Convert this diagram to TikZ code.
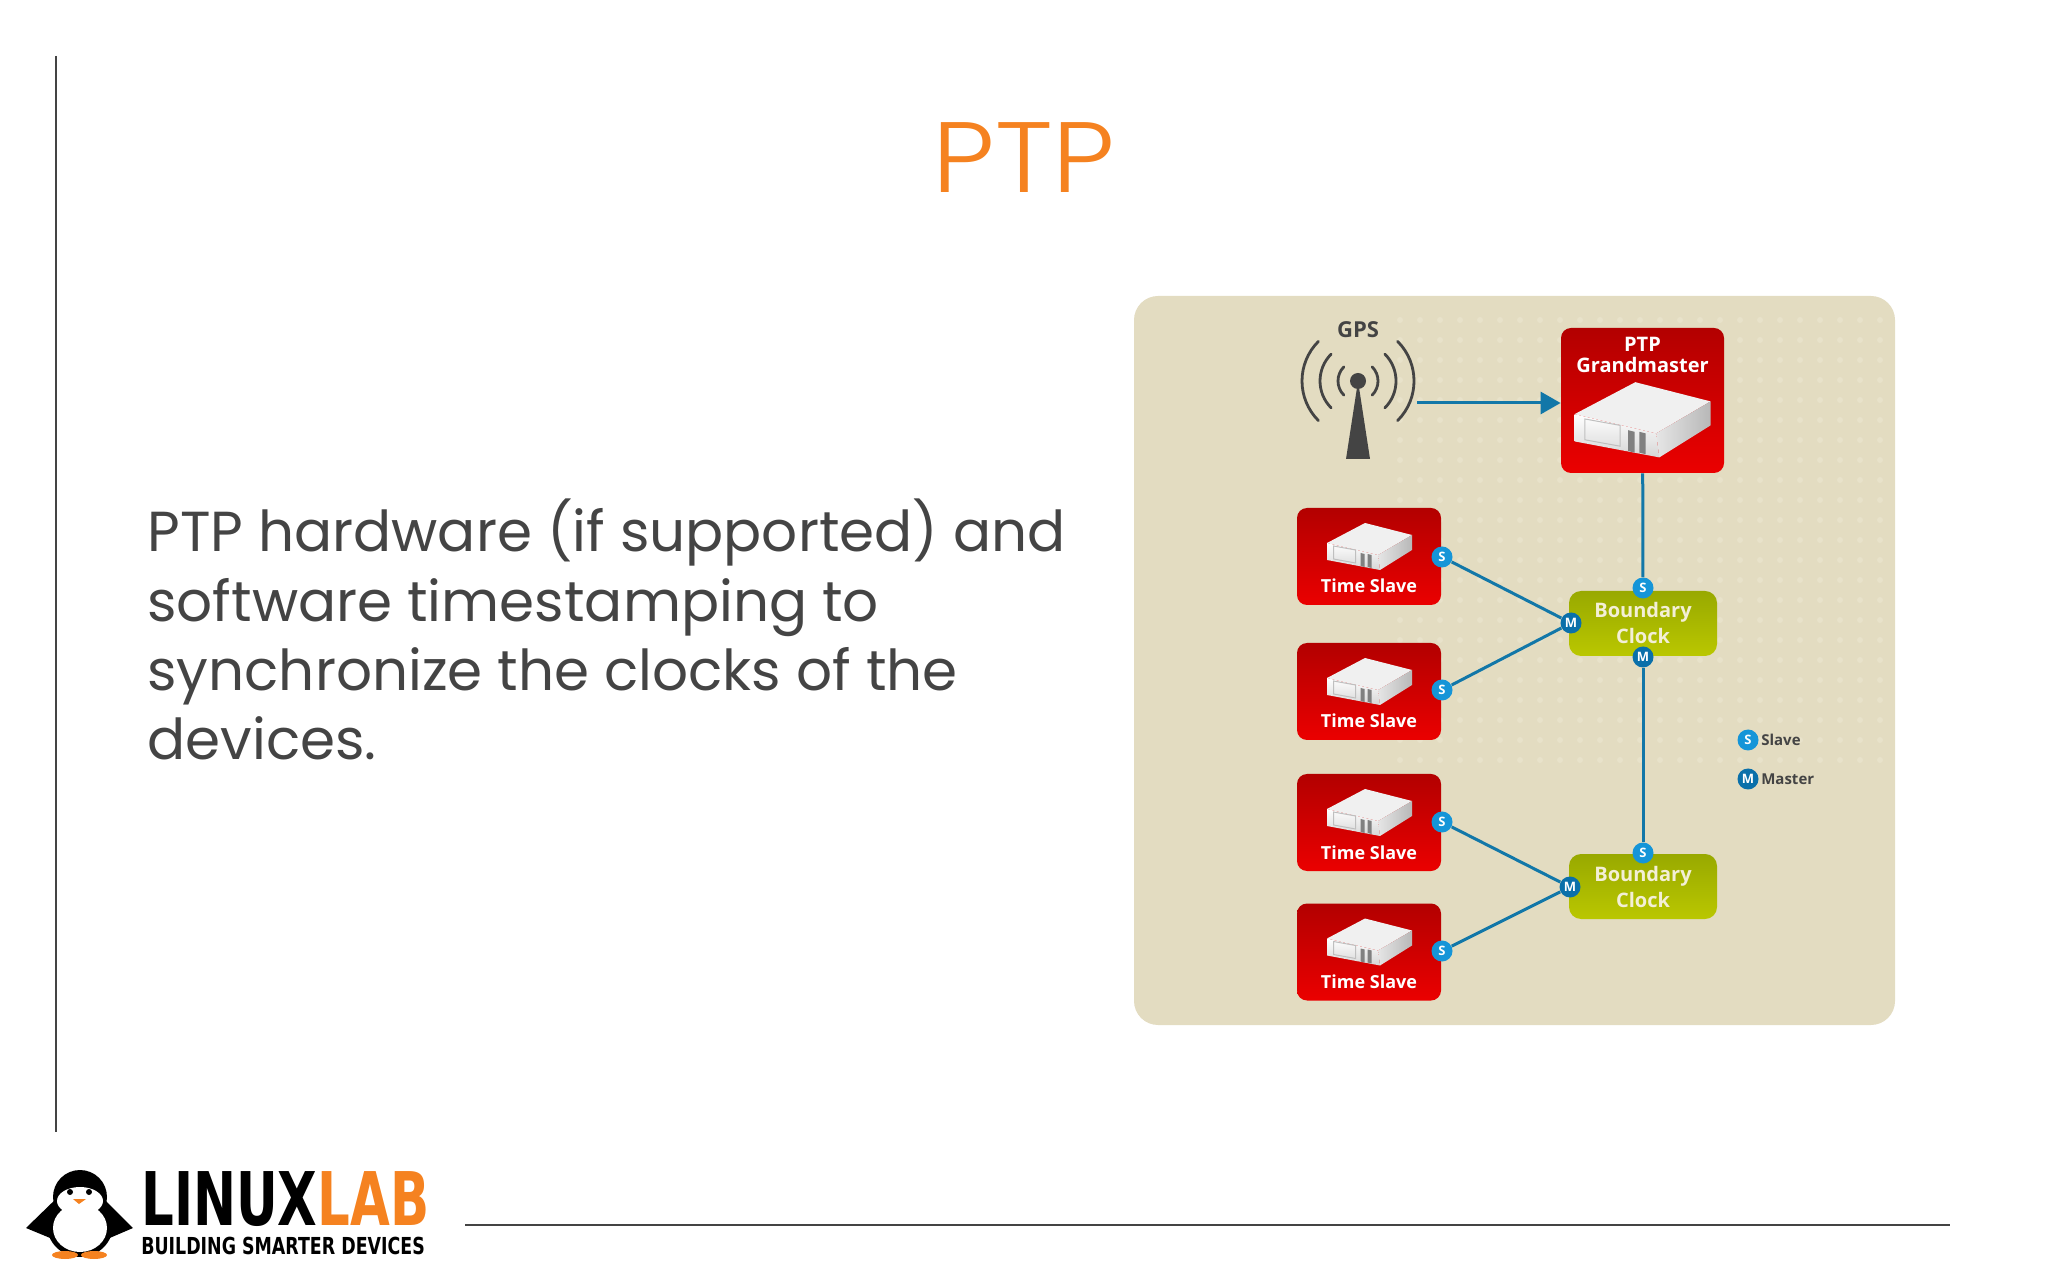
\documentclass[tikz,border=0pt]{standalone}
\usepackage{fontspec}
\usetikzlibrary{positioning}
\usetikzlibrary{arrows.meta}
\setmainfont{Poppins}
\newfontfamily\titlefont{Poppins Light}
\newfontfamily\labelfont{Open Sans}
\newfontfamily\logofont{DejaVu Sans}
\definecolor{panelbg}{HTML}{E3DCC1}
\definecolor{paneldot}{HTML}{E8E2CA}
\definecolor{creamtext}{HTML}{F3EFD6}
\definecolor{inkgrey}{HTML}{444444}
\definecolor{titleorange}{HTML}{F58220}
\definecolor{linkblue}{HTML}{1277A8}
\definecolor{slaveblue}{HTML}{1595D8}
\definecolor{masterblue}{HTML}{0A70AA}
\definecolor{clocktop}{HTML}{98A900}
\definecolor{clockbottom}{HTML}{BAC700}
\tikzset{
  redbox/.style={rounded corners=5pt,top color=red!70!black,bottom color=red!92!black,text=white,font=\labelfont\bfseries\fontsize{9}{10}\selectfont},
  slavebox/.style={redbox,minimum width=72pt,inner sep=3pt,text height=39.5pt,text depth=3pt},
  masterbox/.style={redbox,minimum width=81.5pt,minimum height=72.5pt},
  clockbox/.style={rounded corners=6pt,top color=clocktop,bottom color=clockbottom,minimum width=74pt,minimum height=32.5pt,inner sep=0pt,align=center,text=creamtext,font=\labelfont\bfseries\fontsize{10}{13}\selectfont},
  badge/.style={circle,minimum size=10.5pt,inner sep=0pt,text=white,font=\labelfont\bfseries\fontsize{6.5}{7}\selectfont},
  sbadge/.style={badge,fill=slaveblue},
  mbadge/.style={badge,fill=masterblue},
  legendtext/.style={text=inkgrey,inner sep=0pt,font=\labelfont\bfseries\fontsize{7.5}{8}\selectfont},
  link/.style={draw=linkblue,line width=1.5pt},
  wave/.style={draw=inkgrey,line width=1.4pt,line cap=round},
  server/.pic={
    \fill[black!6] (-42.5,3) -- (-4.5,23) -- (42.5,11) -- (8.5,-9) -- cycle;
    \shade[left color=black!10,right color=black!28] (8.5,-9) -- (42.5,11) -- (42.5,-4) -- (10.5,-24) -- cycle;
    \shade[top color=white,bottom color=black!16] (-42.5,3) -- (8.5,-9) -- (10.5,-24) -- (-42.5,-14) -- cycle;
    \draw[black!25,line width=.5pt] (-36,0) -- (-14,-4) -- (-14,-17) -- (-36,-13) -- cycle;
    \fill[black!50] (-9,-7) -- (-5,-8) -- (-5,-21) -- (-9,-20) -- cycle (-2,-8) -- (2,-9) -- (2,-22) -- (-2,-21) -- cycle;
  }
}
\begin{document}
\begin{tikzpicture}[x=0.5pt,y=0.5pt]
  \useasboundingbox (0,0) rectangle (2048,1280);
  \draw[inkgrey,line width=1pt] (55.5,1224) -- (55.5,148);
  \draw[inkgrey,line width=1pt] (465,55) -- (1950,55);
  \node[xscale=1.11,transform shape,text=titleorange,font=\titlefont\fontsize{50}{50}\selectfont] (title) at (1024,1122) {PTP};
  \node[anchor=base west,inner sep=0pt,align=left,text=inkgrey,font=\fontsize{28.2}{34.7}\selectfont] (body) at (147,520)
    {PTP hardware (if supported) and\\software timestamping to\\synchronize the clocks of the\\devices.};
  % panel
  \fill[panelbg,rounded corners=12pt] (1134,255) rectangle (1895,984);
  \foreach \dotx in {1400,1420,...,1880}
    \foreach \doty in {520,540,...,960}
      \fill[paneldot] (\dotx,\doty) circle (1.5pt);
  % gps mast
  \node[text=inkgrey,inner sep=0pt,font=\labelfont\bfseries\fontsize{11}{12}\selectfont] (gps) at (1358,950) {GPS};
  \coordinate (gpsdot) at (1358,899);
  \coordinate (gpsend) at (1417,877);
  \fill[inkgrey] (gpsdot) circle (4pt);
  \fill[inkgrey] (gpsdot) -- (1346,821) -- (1370,821) -- cycle;
  \draw[wave] (gpsdot) ++(135:10pt) arc[start angle=135,end angle=225,radius=10pt];
  \draw[wave] (gpsdot) ++(45:10pt) arc[start angle=45,end angle=-45,radius=10pt];
  \draw[wave] (gpsdot) ++(135:19pt) arc[start angle=135,end angle=225,radius=19pt];
  \draw[wave] (gpsdot) ++(45:19pt) arc[start angle=45,end angle=-45,radius=19pt];
  \draw[wave] (gpsdot) ++(135:28pt) arc[start angle=135,end angle=225,radius=28pt];
  \draw[wave] (gpsdot) ++(45:28pt) arc[start angle=45,end angle=-45,radius=28pt];
  % boxes
  \node[masterbox] (gm) at (1642.5,879.5) {};
  \node[below=4.5pt of gm.north,inner sep=0pt,align=center,text=white,font=\labelfont\bfseries\fontsize{10}{10.5}\selectfont] (gmlabel) {PTP\\Grandmaster};
  \pic[scale=1.6] at (1642.5,861) {server};
  \node[slavebox] (ts1) at (1369,723.5) {Time Slave};
  \node[slavebox] (ts2) at (1369,588.5) {Time Slave};
  \node[slavebox] (ts3) at (1369,457.5) {Time Slave};
  \node[slavebox] (ts4) at (1369,328) {Time Slave};
  \pic at (1369.5,734) {server};
  \pic at (1369.5,599) {server};
  \pic at (1369.5,468) {server};
  \pic at (1369.5,338.5) {server};
  \node[clockbox] (bc1) at (1643,656.5) {Boundary\\Clock};
  \node[clockbox] (bc2) at (1643,393.5) {Boundary\\Clock};
  % badges
  \node[sbadge] (ts1s) at (1442,723) {S};
  \node[sbadge] (ts2s) at (1442,590) {S};
  \node[sbadge] (ts3s) at (1442,458) {S};
  \node[sbadge] (ts4s) at (1442,329) {S};
  \node[sbadge] (bc1s) at (1643,692) {S};
  \node[mbadge] (bc1m) at (1571,657) {M};
  \node[mbadge] (bc1o) at (1643,623) {M};
  \node[sbadge] (bc2s) at (1643,427) {S};
  \node[mbadge] (bc2m) at (1570,393) {M};
  % legend
  \node[sbadge] (keys) at (1748,540) {S};
  \node[mbadge] (keym) at (1748,501) {M};
  \node[legendtext,right=1pt of keys] (keystext) {Slave};
  \node[legendtext,right=1pt of keym] (keymtext) {Master};
  % links
  \path[link]
    (gm) edge (bc1s)
    (bc1o) edge (bc2s)
    (ts1s) edge (bc1m)
    (ts2s) edge (bc1m)
    (ts3s) edge (bc2m)
    (ts4s) edge (bc2m);
  \draw[link,-{Triangle[length=10pt,width=11pt]}] (gpsend) -- (gpsend -| gm.west);
  % logo
  \fill[black] (60,85) -- (26,52) -- (55,40) -- cycle (100,85) -- (133,52) -- (105,40) -- cycle;
  \fill[black] (80,55) ellipse [x radius=33,y radius=32];
  \fill[black] (80,83) circle (13.5pt);
  \fill[white] (80,52) ellipse [x radius=27,y radius=24];
  \fill[white] (80,79) ellipse [x radius=23,y radius=14];
  \fill[black] (70,88) circle (1.5pt) (89,88) circle (1.5pt);
  \fill[titleorange] (73,81) -- (86,81) -- (79,76) -- cycle;
  \fill[titleorange] (65,25) ellipse [x radius=13,y radius=4] (94,25) ellipse [x radius=13,y radius=4];
  \node[anchor=base west,inner sep=0pt,xscale=.695,transform shape,text height=27pt,text depth=0pt,font=\logofont\bfseries\fontsize{37}{38}\selectfont] (logoname) at (141,55) {LINUX\textcolor{titleorange}{LAB}};
  \node[anchor=base west,inner sep=0pt,xscale=.744,transform shape,text height=8.5pt,text depth=0pt,font=\logofont\bfseries\fontsize{11.7}{12}\selectfont] (logotag) at (141,26) {BUILDING SMARTER DEVICES};
\end{tikzpicture}
\end{document}
